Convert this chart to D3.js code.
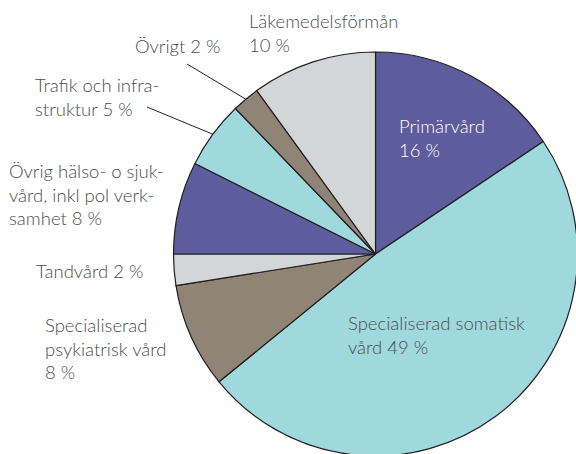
<!DOCTYPE html>
<html>
<head>
<meta charset="utf-8">
<script src="https://cdn.jsdelivr.net/npm/d3@7"></script>
<style>
  html, body { margin: 0; padding: 0; background: #fff; }
  svg { display: block; }
  text { font-family: Lato, "Open Sans", sans-serif; font-weight: 300; font-size: 18.5px; fill: #4d4d4f; }
</style>
</head>
<body>
<svg id="chart" width="576" height="454"></svg>
<script>
// slices, clockwise from 12 o'clock
const categories = ["Primärvård", "Specialiserad somatisk vård", "Specialiserad psykiatrisk vård",
  "Tandvård", "Övrig hälso- o sjukvård", "Trafik och infrastruktur", "Övrigt", "Läkemedelsförmån"];
const shares = [15.6, 48.5, 8.4, 2.5, 7.4, 5.4, 2.2, 10.0];
const colorKeys = ["purple", "cyan", "taupe", "grey", "purple", "cyan", "taupe", "grey"];
// label lines as printed
const labelLines = [
  ["Primärvård", "16 %"],
  ["Specialiserad somatisk", "vård 49 %"],
  ["Specialiserad", "psykiatrisk vård", "8 %"],
  ["Tandvård 2 %"],
  ["Övrig hälso- o sjuk-", "vård, inkl pol verk-", "samhet 8 %"],
  ["Trafik och infra-", "struktur 5 %"],
  ["Övrigt 2 %"],
  ["Läkemedelsförmån", "10 %"]
];

const palette = { purple: "#5d5c9c", cyan: "#9fd9dd", taupe: "#8f8476", grey: "#d4d5d7" };

const cx = 375.5, cy = 254, radius = 202;
const lineH = 23.5;

// label anchors (first baseline), and whether it needs a leader line
const labelPos = [
  { x: 399, y: 133, fill: "#fff" },
  { x: 348, y: 330 },
  { x: 45, y: 332 },
  { x: 36, y: 278 },
  { x: 9, y: 178 },
  { x: 35, y: 92, leader: [147, 107] },
  { x: 135, y: 53, leader: [187, 64] },
  { x: 249, y: 28 }
];

const svg = d3.select("#chart");
const g = svg.append("g").attr("transform", `translate(${cx},${cy})`);

const pie = d3.pie().value(d => d.value).sort(null);
const arc = d3.arc().innerRadius(0).outerRadius(radius);

const data = pie(categories.map((c, i) => ({ name: c, value: shares[i], color: palette[colorKeys[i]], i })));

g.selectAll("path.slice")
  .data(data)
  .join("path")
  .attr("class", "slice")
  .attr("d", arc)
  .attr("fill", d => d.data.color)
  .attr("stroke", "#231f20")
  .attr("stroke-width", 1.2)
  .attr("stroke-linejoin", "round");

// leader lines end on the outer edge at slice mid-angle
data.forEach((d, i) => {
  const p = labelPos[i];
  if (!p.leader) return;
  const a = (d.startAngle + d.endAngle) / 2;
  const ex = cx + Math.sin(a) * radius, ey = cy - Math.cos(a) * radius;
  svg.append("line")
    .attr("x1", p.leader[0]).attr("y1", p.leader[1])
    .attr("x2", ex).attr("y2", ey)
    .attr("stroke", "#231f20").attr("stroke-width", 1);
});

const labels = svg.selectAll("text.lbl")
  .data(data)
  .join("text")
  .attr("class", "lbl")
  .attr("x", (d, i) => labelPos[i].x)
  .attr("y", (d, i) => labelPos[i].y)
  .style("fill", (d, i) => labelPos[i].fill || null);

labels.selectAll("tspan")
  .data((d, i) => labelLines[i].map(t => ({ t, x: labelPos[i].x })))
  .join("tspan")
  .attr("x", d => d.x)
  .attr("dy", (d, j) => j === 0 ? 0 : lineH)
  .text(d => d.t);
</script>
</body>
</html>
